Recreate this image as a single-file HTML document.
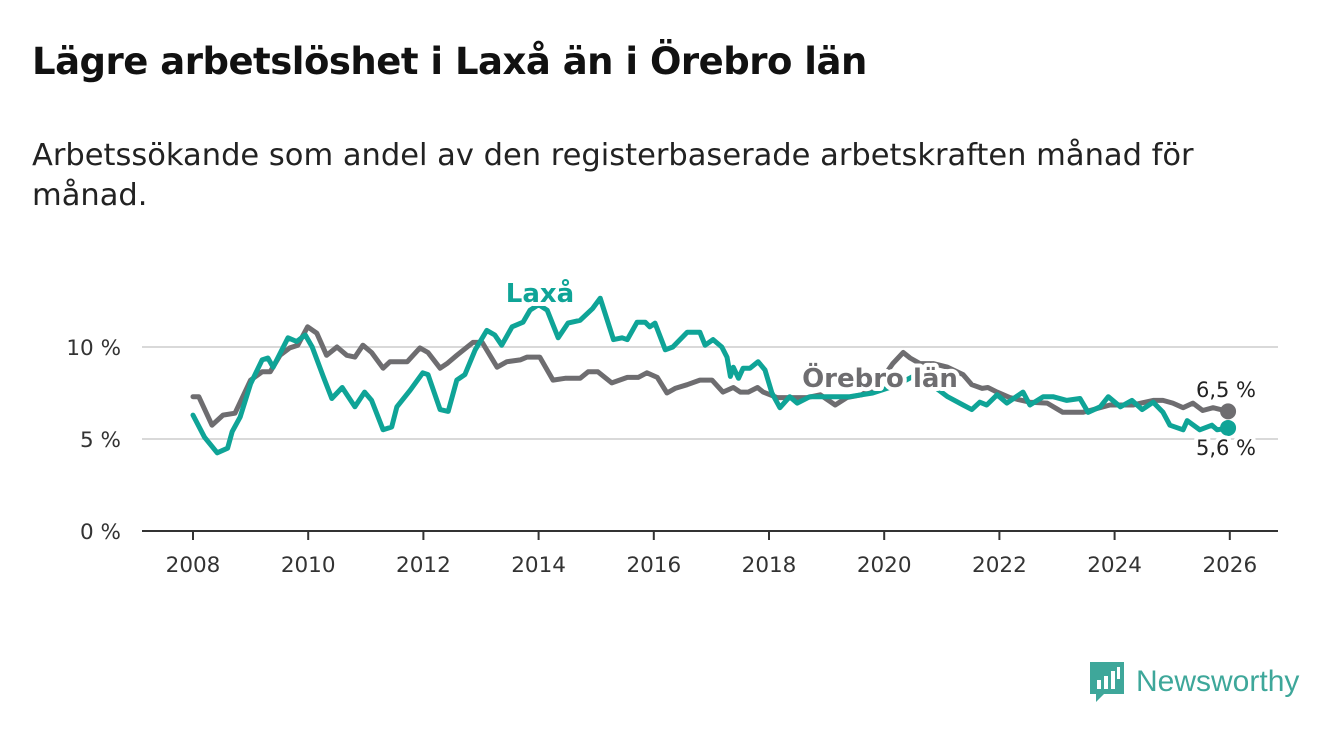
<!DOCTYPE html>
<html><head><meta charset="utf-8">
<style>
body{margin:0;width:1340px;height:734px;background:#fff;font-family:"Liberation Sans","DejaVu Sans",sans-serif;overflow:hidden;position:relative}
h1{position:absolute;left:32px;top:40px;margin:0;font-size:37px;font-weight:bold;color:#111;font-family:"DejaVu Sans","Liberation Sans",sans-serif;letter-spacing:-0.5px}
p.sub{position:absolute;left:32px;top:136px;margin:0;font-size:30.5px;line-height:40px;color:#222;width:1250px;font-family:"DejaVu Sans","Liberation Sans",sans-serif}
svg{position:absolute;left:0;top:0}
</style></head><body>
<h1>Lägre arbetslöshet i Laxå än i Örebro län</h1>
<p class="sub">Arbetssökande som andel av den registerbaserade arbetskraften månad för<br>månad.</p>
<svg id="chart" width="1340" height="734"></svg>
<div style="position:absolute;left:1090px;top:662px;display:flex;align-items:center">
<svg width="34" height="40" style="position:static"><path d="M0 0H34V32H14L6 40V32H0Z" fill="#3ea79a"/><rect x="7" y="18" width="4" height="9" fill="#fff"/><rect x="14" y="14" width="4" height="13" fill="#fff"/><rect x="21" y="9" width="4" height="18" fill="#fff"/><rect x="27" y="5" width="3" height="12" fill="#fff"/></svg>
<span style="font-size:30px;color:#3ea79a;margin-left:12px;font-family:'Liberation Sans',sans-serif">Newsworthy</span></div>
<script>
const laxYears=[2008.0,2008.2,2008.42,2008.6,2008.68,2008.82,2009.0,2009.2,2009.3,2009.39,2009.65,2009.8,2009.95,2010.07,2010.26,2010.41,2010.59,2010.81,2010.98,2011.1,2011.3,2011.45,2011.54,2011.77,2011.99,2012.08,2012.29,2012.43,2012.58,2012.72,2012.9,2013.1,2013.24,2013.36,2013.54,2013.73,2013.85,2014.0,2014.15,2014.34,2014.51,2014.72,2014.94,2015.07,2015.3,2015.45,2015.54,2015.71,2015.85,2015.93,2016.02,2016.2,2016.33,2016.58,2016.8,2016.89,2017.03,2017.18,2017.27,2017.33,2017.38,2017.47,2017.55,2017.67,2017.81,2017.93,2018.05,2018.19,2018.36,2018.49,2018.71,2019.0,2019.4,2019.8,2020.2,2020.5,2020.8,2021.1,2021.37,2021.52,2021.66,2021.78,2021.96,2022.13,2022.41,2022.53,2022.76,2022.93,2023.17,2023.4,2023.54,2023.75,2023.89,2024.1,2024.3,2024.48,2024.67,2024.84,2024.96,2025.19,2025.26,2025.48,2025.69,2025.78,2025.97];
const laxValues=[6.3,5.1,4.25,4.5,5.4,6.2,8.0,9.3,9.4,8.9,10.5,10.3,10.65,10.0,8.4,7.2,7.8,6.75,7.55,7.1,5.5,5.65,6.75,7.65,8.6,8.5,6.6,6.5,8.2,8.5,9.85,10.9,10.65,10.1,11.1,11.35,12.0,12.3,12.0,10.5,11.3,11.45,12.1,12.65,10.4,10.5,10.4,11.35,11.35,11.1,11.3,9.85,10.0,10.8,10.8,10.1,10.4,10.0,9.45,8.4,8.9,8.3,8.85,8.85,9.2,8.75,7.5,6.7,7.3,6.95,7.3,7.3,7.3,7.5,7.9,8.4,8.0,7.3,6.85,6.6,7.0,6.85,7.4,6.95,7.55,6.85,7.3,7.3,7.1,7.2,6.45,6.75,7.3,6.75,7.1,6.6,7.0,6.45,5.75,5.5,6.0,5.5,5.75,5.5,5.6];
const oreYears=[2008.0,2008.1,2008.33,2008.52,2008.73,2009.0,2009.2,2009.34,2009.51,2009.68,2009.82,2009.99,2010.15,2010.32,2010.5,2010.67,2010.81,2010.95,2011.1,2011.3,2011.42,2011.72,2011.94,2012.08,2012.29,2012.41,2012.58,2012.86,2013.02,2013.28,2013.45,2013.68,2013.8,2014.02,2014.25,2014.46,2014.72,2014.86,2015.03,2015.27,2015.54,2015.73,2015.88,2016.06,2016.23,2016.37,2016.58,2016.8,2017.01,2017.2,2017.38,2017.5,2017.64,2017.8,2017.9,2018.14,2018.36,2018.66,2018.89,2019.15,2019.35,2019.61,2019.9,2020.15,2020.33,2020.45,2020.62,2020.85,2021.1,2021.37,2021.52,2021.7,2021.8,2021.96,2022.18,2022.53,2022.83,2023.1,2023.45,2023.57,2023.92,2024.32,2024.67,2024.84,2025.01,2025.19,2025.36,2025.53,2025.71,2025.97];
const oreValues=[7.3,7.3,5.75,6.3,6.4,8.2,8.65,8.65,9.55,9.95,10.1,11.1,10.75,9.55,10.0,9.55,9.45,10.1,9.7,8.85,9.2,9.2,9.95,9.7,8.85,9.1,9.55,10.25,10.25,8.9,9.2,9.3,9.45,9.45,8.2,8.3,8.3,8.65,8.65,8.05,8.35,8.35,8.6,8.35,7.5,7.75,7.95,8.2,8.2,7.55,7.8,7.55,7.55,7.8,7.55,7.25,7.25,7.25,7.4,6.85,7.25,7.4,8.0,9.1,9.7,9.4,9.1,9.1,8.9,8.5,7.95,7.75,7.8,7.55,7.25,7.0,6.95,6.45,6.45,6.55,6.85,6.85,7.1,7.1,6.95,6.7,6.95,6.55,6.7,6.5];
const yTicks=[0,5,10];
const yTickLabels=["0 %","5 %","10 %"];
const xTicks=[2008,2010,2012,2014,2016,2018,2020,2022,2024,2026];

const NS="http://www.w3.org/2000/svg";
const svg=document.getElementById('chart');
const X=y=>193+(y-2008)*57.6;
const Y=v=>531-v*18.4;
function mk(t,a,p){const e=document.createElementNS(NS,t);for(const k in a)e.setAttribute(k,a[k]);(p||svg).appendChild(e);return e;}
yTicks.forEach((v,i)=>{
  const g=mk('line',{x1:142,x2:1278,y1:Y(v),y2:Y(v),stroke:v===0?'#333':'#d9d9d9','stroke-width':2});
  
  
  const t=mk('text',{x:121,y:Y(v)+8,'text-anchor':'end','font-size':21.5,fill:'#333','font-family':'DejaVu Sans, Liberation Sans, sans-serif'});
  t.textContent=yTickLabels[i];
  
  
});
xTicks.forEach(yr=>{
  const l=mk('line',{x1:X(yr),x2:X(yr),y1:531,y2:540,stroke:'#333','stroke-width':2});
  
  
  const t=mk('text',{x:X(yr),y:572,'text-anchor':'middle','font-size':21.5,fill:'#333','font-family':'DejaVu Sans, Liberation Sans, sans-serif'});
  t.textContent=yr;
  
  
});
function line(xs,vs,col,name){
  const d=xs.map((x,i)=>(i?'L':'M')+X(x).toFixed(1)+' '+Y(vs[i]).toFixed(1)).join('');
  const p=mk('path',{d:d,fill:'none',stroke:col,'stroke-width':5,'stroke-linejoin':'round','stroke-linecap':'round'});
  
  
  const c=mk('circle',{cx:X(xs[xs.length-1]),cy:Y(vs[vs.length-1]),r:8,fill:col});
  
  
}
line(oreYears,oreValues,'#6e6d70','orebro-line');
line(laxYears,laxValues,'#0fa497','laxa-line');
function lab(txt,x,y,col,name,bold,halo,anchor){
  const t=mk('text',{x:x,y:y,'font-size':bold?26:21,'font-weight':bold?'bold':'normal',fill:col,'text-anchor':anchor||'start','font-family':'DejaVu Sans, Liberation Sans, sans-serif',stroke:'#fff','stroke-width':halo?8:0,'paint-order':'stroke','stroke-linejoin':'round'});
  t.textContent=txt;
  
  
}
lab('Laxå',540,302,'#0fa497','laxa-series-label',true,true,'middle');
lab('Örebro län',880,387,'#6e6d70','orebro-series-label',true,true,'middle');
lab('6,5 %',1226,397,'#222','orebro-end-value',false,true,'middle');
lab('5,6 %',1226,455,'#222','laxa-end-value',false,true,'middle');
</script>
</body></html>
